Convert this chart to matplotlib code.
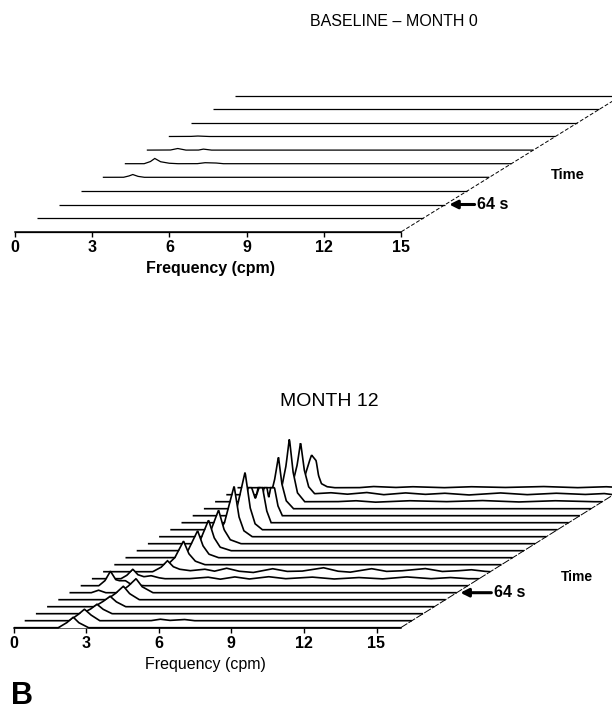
import numpy as np
import matplotlib
matplotlib.use("Agg")
import matplotlib.pyplot as plt

plt.rcParams['font.family'] = ['Liberation Sans', 'DejaVu Sans']

FREQ_TICKS = [0, 3, 6, 9, 12, 15]

# running spectra, front (first) trace first; each is a list of (cpm, power) points,
# power is zero where no point is given
month0_spectra = [
    [],
    [],
    [],
    [],
    [(0.8, 0), (1.0, 1.2), (1.16, 2.8), (1.35, 1.0), (1.6, 0)],
    [(0.75, 0), (1.0, 2.2), (1.16, 5.3), (1.38, 2.0), (1.7, 0.5), (2.0, 0),
     (2.8, 0), (3.1, 1.0), (3.5, 0.8), (3.8, 0)],
    [(0.9, 0), (1.2, 1.6), (1.5, 0), (2.0, 0), (2.2, 1.0), (2.5, 0)],
    [(0.8, 0), (1.1, 0.5), (1.5, 0)],
    [],
    [],
    [],
]

month12_spectra = [
    [(1.85, 0), (2.2, 5), (2.47, 10.5), (2.7, 5), (3.1, 0)],
    [(1.85, 0), (2.2, 6), (2.47, 11.5), (2.72, 6), (3.1, 0),
     (5.2, 0), (5.6, 1.5), (6.0, 0.3), (6.6, 1.2), (7.0, 0)],
    [(1.9, 0), (2.25, 4.5), (2.52, 9.5), (2.77, 4.5), (3.15, 0)],
    [(1.95, 0), (2.3, 5), (2.6, 10.5), (2.85, 5), (3.25, 0)],
    [(2.0, 0), (2.35, 6), (2.69, 13.5), (2.95, 6), (3.35, 0)],
    [(0.9, 0), (1.2, 2.5), (1.5, 0), (2.05, 0), (2.4, 6), (2.75, 14),
     (3.0, 6), (3.45, 0)],
    [(0.75, 0), (1.0, 5), (1.23, 14.5), (1.45, 6), (1.6, 5), (1.85, 5),
     (2.1, 1), (2.6, 0)],
    [(1.2, 0), (1.45, 3.5), (1.69, 9.5), (1.9, 4), (2.15, 2), (2.45, 3),
     (2.75, 1), (3.0, 0), (4.0, 0), (4.8, 1.5), (5.3, -0.5), (5.9, 1.8),
     (6.5, -0.3), (7.3, 2.0), (8.0, 0), (9.1, 1.6), (10.0, -0.3), (11.0, 1.2),
     (12.0, -0.2), (13.0, 1.8), (14.0, 0), (14.8, 1.2), (15.5, 0)],
    [(2.05, 0), (2.4, 4.5), (2.66, 11), (2.9, 5), (3.15, 2.5), (3.6, 1),
     (4.2, 2.5), (4.6, 0.5), (5.1, 3.5), (5.6, 0.5), (6.2, -0.8), (7.0, 3),
     (7.6, 0.3), (8.2, 0.5), (9.1, 4), (9.7, 0.5), (10.2, -0.5), (11.1, 3),
     (11.7, 0.3), (12.3, 0.8), (13.3, 3.2), (14.0, 0.2), (14.6, 0.8),
     (15.2, 2), (15.7, 0.5), (16.0, 0)],
    [(2.2, 0), (2.5, 7), (2.86, 23.7), (3.08, 11), (3.35, 3.5), (3.75, 0)],
    [(2.3, 0), (2.6, 8), (2.98, 27), (3.2, 12), (3.45, 3.5), (3.85, 0)],
    [(2.3, 0), (2.6, 9), (2.97, 30.7), (3.2, 13), (3.45, 3.5), (3.9, 0)],
    [(2.25, 0), (2.55, 10), (2.92, 33.7), (3.15, 14), (3.4, 4), (3.85, 0)],
    [(2.4, 0), (2.7, 14), (3.1, 50.7), (3.3, 20), (3.5, 6), (3.85, 0)],
    [(2.4, 0), (2.7, 16), (3.09, 57.7), (3.3, 22), (3.5, 6), (3.8, 0)],
    [(2.35, 0), (2.6, 14), (2.75, 35), (2.9, 35), (3.05, 24), (3.2, 35),
     (3.35, 35), (3.52, 12), (3.7, 0)],
    [(2.3, 0), (2.55, 11), (2.7, 28), (2.8, 28), (2.87, 18), (2.95, 28),
     (3.07, 28), (3.14, 18), (3.22, 28), (3.38, 28), (3.52, 10), (3.7, 0)],
    [(2.5, 0), (2.75, 12), (2.93, 30), (3.08, 52), (3.22, 25), (3.4, 8),
     (3.7, 0)],
    [(2.5, 0), (2.75, 14), (2.93, 36), (3.07, 63.4), (3.22, 30), (3.4, 9),
     (3.7, 0), (5.0, 0), (5.8, 1.0), (6.6, -0.5), (8.0, 1.0), (9.5, 0),
     (11.0, 1.2), (12.5, -0.3), (14.0, 1.0), (15.5, 0)],
    [(2.5, 0), (2.75, 12), (2.93, 30), (3.07, 52.4), (3.22, 25), (3.4, 8),
     (3.65, 1), (4.3, 2), (5.0, 0.5), (5.8, 2.2), (6.5, 0), (7.4, 1.8),
     (8.2, 0.3), (9.0, 1.5), (10.0, -0.3), (11.3, 1.8), (12.4, 0),
     (13.6, 1.5), (14.8, 0.2), (15.6, 1.2), (16.0, 0)],
    [(2.55, 0), (2.8, 13), (2.95, 25), (3.06, 32.7), (3.15, 30), (3.25, 27),
     (3.35, 12), (3.47, 4), (3.7, 1), (4.0, 0), (5.0, 0), (5.6, 1.2),
     (6.5, 0.2), (7.2, 1.0), (8.5, 0), (9.6, 1.0), (11.0, 0.2), (12.6, 1.2),
     (14.0, 0), (15.2, 1.0), (16.0, 0)],
]


def spectrum(points, fmax):
    f = np.linspace(0, fmax, 800)
    if not points:
        return f, np.zeros_like(f)
    pf, pp = zip(*points)
    return f, np.interp(f, pf, pp, left=0, right=0)


def waterfall(ax, spectra, fmax, dx, dy, lw, diag_dash):
    n = len(spectra)
    # back to front so that nearer traces hide the ones behind
    for i in reversed(range(n)):
        f, p = spectrum(spectra[i], fmax)
        z = 2 * (n - i)
        ax.fill_between(f + i * dx, i * dy, i * dy + p, color='white',
                        lw=0, zorder=z)
        ax.plot(f + i * dx, i * dy + p, color='black', lw=lw, zorder=z + 1,
                solid_capstyle='butt', solid_joinstyle='miter')
    ends = np.arange(n)
    ax.plot(fmax + ends * dx, ends * dy, color='black', lw=0.7,
            dashes=diag_dash, zorder=1)


def freq_axis(ax, fmax, label_x, label_weight):
    for side in ['top', 'right', 'left']:
        ax.spines[side].set_visible(False)
    ax.spines['bottom'].set_position(('data', 0))
    ax.spines['bottom'].set_bounds(0, fmax)
    ax.spines['bottom'].set_linewidth(1.1)
    ax.set_yticks([])
    ax.set_xticks(FREQ_TICKS)
    ax.set_xticklabels([str(t) for t in FREQ_TICKS], fontweight='bold')
    ax.tick_params(axis='x', direction='out', length=3.5, width=1.0,
                   labelsize=11.5, pad=2.5)
    ax.patch.set_alpha(0)
    ax.annotate('Frequency (cpm)', xy=(label_x, 0), xytext=(0, -26.5),
                textcoords='offset points', ha='center', va='center',
                fontsize=11.5, fontweight=label_weight)


fig = plt.figure(figsize=(6.12, 7.12), dpi=100)
W, H = 612.0, 712.0

# BASELINE - MONTH 0
ax0 = fig.add_axes([14.8 / W, 470 / H, (W - 14.8) / W, 182 / H])
ax0.set_xlim(0, (W - 14.8) / 25.77)
ax0.set_ylim(-10.3, 171.7)
dx0, dy0 = 22.0 / 25.77, 13.6
waterfall(ax0, month0_spectra, 15, dx0, dy0, 0.9, (4, 2))
freq_axis(ax0, 15, 7.6, 'bold')
ax0.annotate('64 s', xy=(15 + 2 * dx0 + 0.15, 2 * dy0), xytext=(17.95, 2 * dy0),
             ha='left', va='center', fontsize=11.5, fontweight='bold',
             arrowprops=dict(arrowstyle='-|>', color='black', lw=2.2,
                             mutation_scale=12, shrinkA=0, shrinkB=0))
ax0.text(21.47, 56.7, 'Time', ha='center', va='center', fontsize=10.5,
         fontweight='bold')
fig.text(394 / W, 1 - 22 / H, 'BASELINE – MONTH 0', ha='center', va='center',
         fontsize=11.5)

# MONTH 12
ax1 = fig.add_axes([13.5 / W, 74 / H, (W - 13.5) / W, 218 / H])
ax1.set_xlim(0, (W - 13.5) / 24.2)
ax1.set_ylim(-10.3, 207.7)
dx1, dy1 = 11.2 / 24.2, 7.0
waterfall(ax1, month12_spectra, 16, dx1, dy1, 1.2, (8, 1.5))
freq_axis(ax1, 16, 7.94, 'normal')
ax1.annotate('64 s', xy=(16 + 5 * dx1 + 0.15, 5 * dy1), xytext=(19.86, 5 * dy1),
             ha='left', va='center', fontsize=11.5, fontweight='bold',
             arrowprops=dict(arrowstyle='-|>', color='black', lw=2.2,
                             mutation_scale=12, shrinkA=0, shrinkB=0))
ax1.text(23.28, 51, 'Time', ha='center', va='center', fontsize=10,
         fontweight='bold')
fig.text(329 / W, 1 - 401.7 / H, 'MONTH 12', ha='center', va='center',
         fontsize=14)

fig.text(11 / W, 1 / H, 'B', ha='left', va='bottom', fontsize=22,
         fontweight='bold')

fig.savefig('out.png', dpi=100)
